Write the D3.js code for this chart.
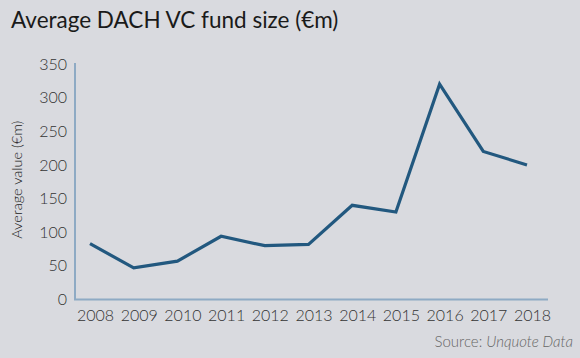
<!DOCTYPE html>
<html>
<head>
<meta charset="utf-8">
<script src="https://cdn.jsdelivr.net/npm/d3@7"></script>
<style>
    body { margin: 0; background: #d9dadf; }
    svg { display: block; font-family: Lato, sans-serif; }
</style>
</head>
<body>
<svg id="chart" width="580" height="358"></svg>
<script>
'use strict';

// data
let years = ['2008', '2009', '2010', '2011', '2012', '2013', '2014', '2015', '2016', '2017', '2018'];
let fundSize = [83, 47, 57, 94, 80, 82, 140, 130, 320, 220, 200];
let yTicks = [0, 50, 100, 150, 200, 250, 300, 350];

let svg = d3.select('#chart');

let axisLeft = 75;
let axisRight = 548;
let plotTop = 64;
let plotBottom = 299.5;

let x = d3.scalePoint(years, [90, 527]);
let y = d3.scaleLinear([0, 350], [plotBottom, plotTop]);

svg.append('rect')
    .attr('width', 580)
    .attr('height', 358)
    .attr('fill', '#d9dadf');

svg.append('text')
    .attr('x', 11)
    .attr('y', 28)
    .attr('font-size', 22.5)
    .attr('fill', '#1a1a1a')
    .text('Average DACH VC fund size (€m)');

// y axis
let yAxis = svg.append('g')
    .attr('transform', `translate(${axisLeft},0)`)
    .call(d3.axisLeft(y).tickValues(yTicks).tickSize(0).tickPadding(8));
yAxis.select('.domain').remove();
yAxis.selectAll('text')
    .attr('font-size', 16)
    .attr('font-weight', 300)
    .attr('font-family', 'Lato, sans-serif')
    .attr('fill', '#333');

// x axis (labels sit a little right of the points, as in the original)
let xAxis = svg.append('g')
    .attr('transform', `translate(5,${plotBottom})`)
    .call(d3.axisBottom(x).tickSize(0).tickPadding(10));
xAxis.select('.domain').remove();
xAxis.selectAll('text')
    .attr('font-size', 16)
    .attr('font-weight', 300)
    .attr('font-family', 'Lato, sans-serif')
    .attr('fill', '#333');

// axis lines
svg.append('path')
    .attr('d', `M${axisLeft},${y(350) - 1}V${plotBottom}H${axisRight}`)
    .attr('fill', 'none')
    .attr('stroke', '#8eaac4')
    .attr('stroke-width', 2);

svg.append('text')
    .attr('transform', `translate(22,${(plotTop + plotBottom) / 2 - 2}) rotate(-90)`)
    .attr('text-anchor', 'middle')
    .attr('font-size', 14.5)
    .attr('font-weight', 300)
    .attr('fill', '#222')
    .text('Average value (€m)');

let line = d3.line()
    .x((d, i) => x(years[i]))
    .y(d => y(d));

svg.append('path')
    .datum(fundSize)
    .attr('d', line)
    .attr('fill', 'none')
    .attr('stroke', '#22587f')
    .attr('stroke-width', 3.2)
    .attr('stroke-linejoin', 'miter');

let source = svg.append('text')
    .attr('x', 573)
    .attr('y', 347)
    .attr('text-anchor', 'end')
    .attr('font-size', 15)
    .attr('font-weight', 300)
    .attr('fill', '#666');
source.append('tspan').text('Source: ');
source.append('tspan').attr('font-style', 'italic').text('Unquote Data');
</script>
</body>
</html>
